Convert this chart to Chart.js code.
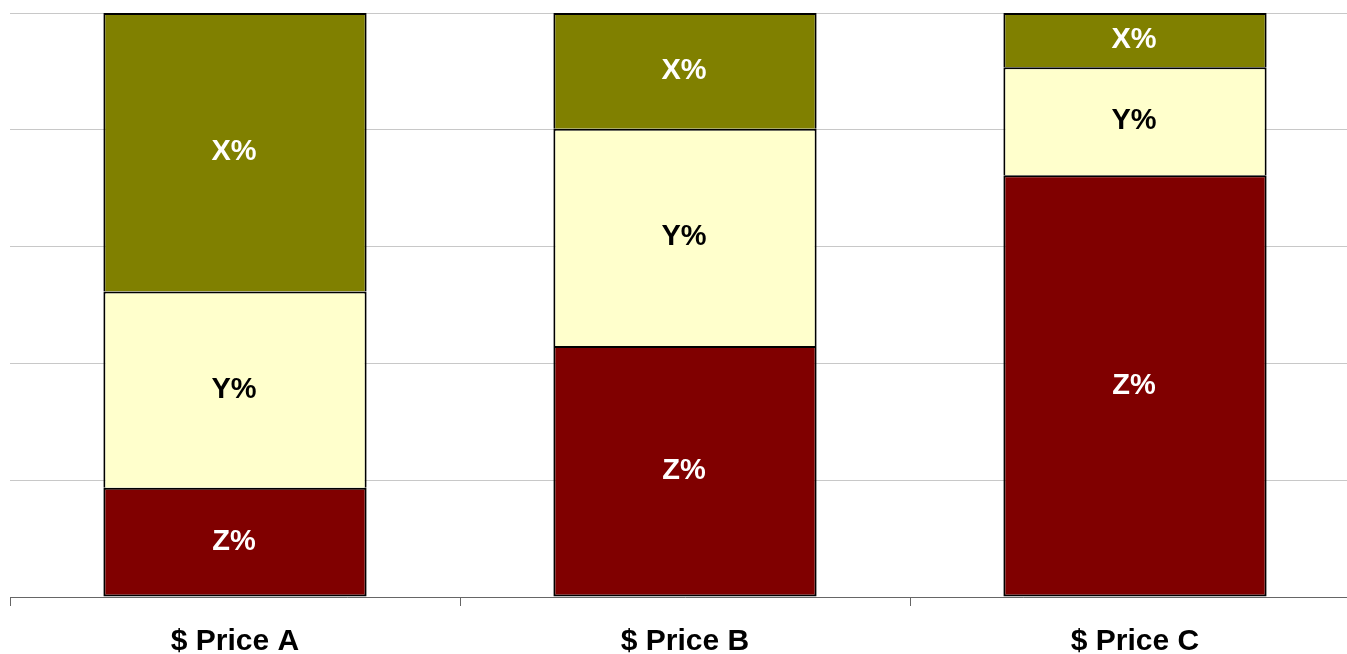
<!DOCTYPE html>
<html>
<head>
<meta charset="utf-8">
<script src="https://cdn.jsdelivr.net/npm/chart.js@4"></script>
<style>
html,body{margin:0;padding:0;background:#fff;overflow:hidden;}
#wrap{width:1360px;height:678px;position:relative;}
</style>
</head>
<body>
<div id="wrap"><canvas id="c"></canvas></div>
<script>
const categories = ["$ Price A", "$ Price B", "$ Price C"];
const seriesNames = ["Z", "Y", "X"];
const zValues = [18.7, 43.0, 72.2];
const yValues = [33.6, 37.2, 18.5];
const xValues = [47.7, 19.8, 9.3];
const segmentLabels = ["Z%", "Y%", "X%"];
const yTicks = [0, 20, 40, 60, 80, 100];

const labelPlugin = {
  id: 'segLabels',
  afterDatasetsDraw(chart) {
    const ctx = chart.ctx;
    ctx.save();
    ctx.font = 'bold 29px "Liberation Sans", Arial, sans-serif';
    ctx.textAlign = 'center';
    ctx.textBaseline = 'middle';
    chart.data.datasets.forEach((ds, i) => {
      const meta = chart.getDatasetMeta(i);
      meta.data.forEach(el => {
        const p = el.getCenterPoint();
        ctx.fillStyle = ds.labelColor;
        ctx.fillText(ds.segLabel, p.x - 1, p.y);
      });
    });
    ctx.restore();
  }
};

new Chart(document.getElementById('c'), {
  type: 'bar',
  data: {
    labels: categories,
    datasets: [
      { label: seriesNames[0], data: zValues, backgroundColor: '#800000', borderColor: '#000',
        borderWidth: {left:2, right:2, bottom:2, top:2}, borderSkipped: false,
        segLabel: segmentLabels[0], labelColor: '#fff' },
      { label: seriesNames[1], data: yValues, backgroundColor: '#FFFFCC', borderColor: '#000',
        borderWidth: {left:2, right:2, bottom:0, top:2}, borderSkipped: false,
        segLabel: segmentLabels[1], labelColor: '#000' },
      { label: seriesNames[2], data: xValues, backgroundColor: '#808000', borderColor: '#000',
        borderWidth: {left:2, right:2, bottom:0, top:2}, borderSkipped: false,
        segLabel: segmentLabels[2], labelColor: '#fff' }
    ]
  },
  options: {
    responsive: true,
    maintainAspectRatio: false,
    animation: false,
    datasets: { bar: { categoryPercentage: 1.0, barPercentage: 0.585 } },
    layout: { padding: { top: 13, left: 10, right: 0, bottom: 0 } },
    plugins: { legend: { display: false }, tooltip: { enabled: false } },
    scales: {
      x: {
        stacked: true,
        grid: { display: true, drawOnChartArea: false, drawTicks: true, tickLength: 9, color: '#666', offset: true },
        border: { display: true, color: '#666', width: 1 },
        ticks: { color: '#000', padding: 21, font: { family: '"Liberation Sans", Arial, sans-serif', size: 30, weight: 'bold', lineHeight: 1 } }
      },
      y: {
        stacked: true,
        min: 0, max: 100,
        afterBuildTicks(axis) { axis.ticks = yTicks.map(v => ({ value: v })); },
        grid: { color: '#c8c8c8', drawTicks: false, lineWidth: 1 },
        border: { display: false },
        ticks: { display: false }
      }
    }
  },
  plugins: [labelPlugin]
});
</script>
</body>
</html>
